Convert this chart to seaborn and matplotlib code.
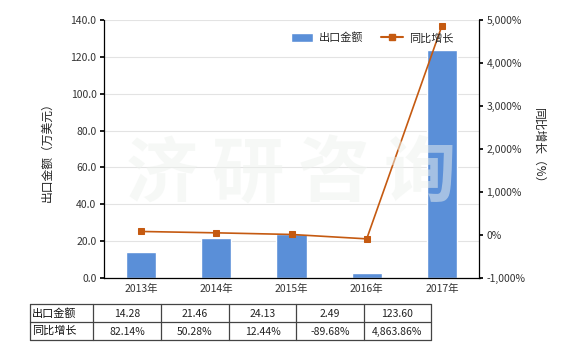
import matplotlib
matplotlib.use("Agg")
import matplotlib.pyplot as plt
import seaborn as sns
import pandas as pd
from matplotlib.lines import Line2D
from matplotlib.patches import Patch
from matplotlib.ticker import FuncFormatter

years = ["2013年", "2014年", "2015年", "2016年", "2017年"]
export_values = [14.28, 21.46, 24.13, 2.49, 123.60]
growth_pct = [82.14, 50.28, 12.44, -89.68, 4863.86]
left_ticks = [0, 20, 40, 60, 80, 100, 120, 140]
right_ticks = [-1000, 0, 1000, 2000, 3000, 4000, 5000]

sns.set_theme(style="white")
plt.rcParams['font.family'] = ['Noto Sans CJK SC', 'DejaVu Sans']
plt.rcParams['axes.unicode_minus'] = False

bar_color = "#5A8FD8"
line_color = "#C55A11"

df = pd.DataFrame({"year": years, "value": export_values, "growth": growth_pct})

fig = plt.figure(figsize=(5.8, 3.5), dpi=100)
ax = fig.add_axes([103.5/580, 1-278/350, (479.5-103.5)/580, (278-20)/350])

sns.barplot(data=df, x="year", y="value", color=bar_color, width=0.4,
            saturation=1, ax=ax)
ax.set_ylim(0, 140)
ax.set_yticks(left_ticks)
ax.yaxis.set_major_formatter(FuncFormatter(lambda v, p: f"{v:.1f}"))
ax.set_xlabel("")
ax.set_ylabel("出口金额（万美元）", fontsize=8.5, color="#222222", labelpad=12)
ax.grid(axis="y", color="#E3E3E3", linewidth=0.8)
ax.set_axisbelow(True)
for s in ["top", "right"]:
    ax.spines[s].set_visible(False)
for s in ["left", "bottom"]:
    ax.spines[s].set_color("#000000")
    ax.spines[s].set_linewidth(0.9)
ax.tick_params(axis="y", labelsize=7.5, length=3, left=True, color="black", pad=2, labelcolor="#333333")
ax.tick_params(axis="x", labelsize=7.5, length=0, pad=4, labelcolor="#333333")

ax2 = ax.twinx()
sns.lineplot(x=list(range(len(years))), y=growth_pct, ax=ax2, color=line_color,
             marker="s", markersize=4.5, markeredgecolor=line_color, linewidth=1.2)
ax2.set_ylim(-1000, 5000)
ax2.set_yticks(right_ticks)
ax2.yaxis.set_major_formatter(FuncFormatter(lambda v, p: f"{v:,.0f}%"))
ax2.tick_params(axis="y", labelsize=7.5, length=3, right=True, color="black", pad=2, labelcolor="#333333")
ax2.set_ylabel("同比增长（%）", fontsize=8.5, color="#222222", rotation=-90, labelpad=14)
for s in ["top", "left", "bottom"]:
    ax2.spines[s].set_visible(False)
ax2.spines["right"].set_color("#000000")
ax2.spines["right"].set_linewidth(0.9)
ax2.grid(False)
ax.set_xlim(-0.5, len(years) - 0.5)

# watermark (drawn on top, faint)
for i, ch in enumerate("济研咨询"):
    fig.text((162 + i * 86) / 580, 1 - 175 / 350, ch, fontsize=52, color="#EEF2EE",
             alpha=0.5, ha="center", va="center", fontweight="bold", zorder=10)

handles = [Patch(facecolor=bar_color, label="出口金额"),
           Line2D([0], [0], color=line_color, marker="s", markersize=4, linewidth=1.5, label="同比增长")]
fig.legend(handles=handles, loc="center left", bbox_to_anchor=(291 / 580, 1 - 38 / 350), ncol=2,
           frameon=False, fontsize=8, handlelength=2.0, handleheight=0.9, columnspacing=1.6,
           handletextpad=0.5, borderpad=0, borderaxespad=0)

# table
tax = fig.add_axes([0, 0, 1, 1], facecolor="none")
tax.set_xlim(0, 580)
tax.set_ylim(350, 0)
tax.axis("off")
cols = [30, 93, 161, 229, 296, 364, 431]
rows = [304, 322, 340]
for x in cols:
    tax.plot([x, x], [rows[0], rows[-1]], color="#444444", lw=0.9)
for y in rows:
    tax.plot([cols[0], cols[-1]], [y, y], color="#444444", lw=0.9)
row_labels = ["出口金额", "同比增长"]
row_vals = [[f"{v:,.2f}" for v in export_values], [f"{v:,.2f}%" for v in growth_pct]]
for r in range(2):
    yc = (rows[r] + rows[r+1]) / 2
    tax.text(cols[0] + 2, yc, row_labels[r], fontsize=8, va="center", ha="left", color="#111111")
    for c in range(5):
        xc = (cols[c+1] + cols[c+2]) / 2
        tax.text(xc, yc + 1, row_vals[r][c], fontsize=7.5, va="center", ha="center", color="#222222")

fig.savefig("out.png", dpi=100)
